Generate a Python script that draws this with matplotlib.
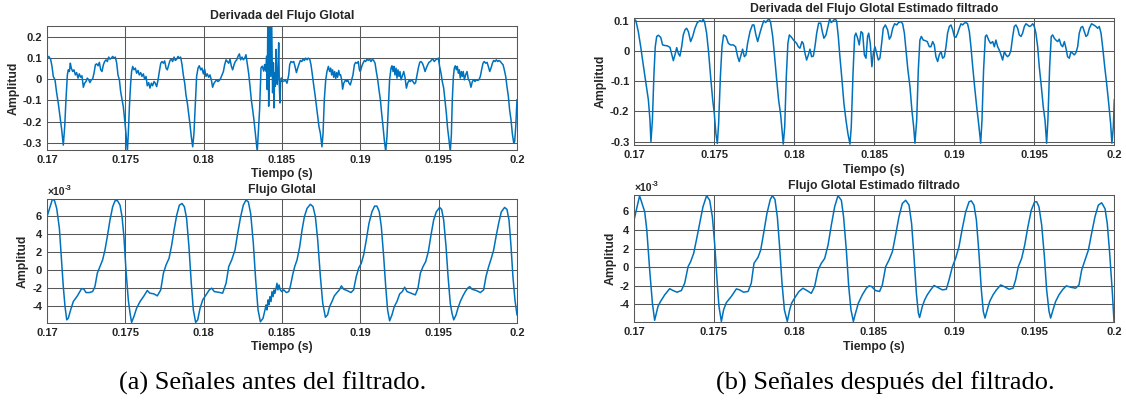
import matplotlib
matplotlib.use('Agg')
import matplotlib.pyplot as plt

plt.rcParams['axes.unicode_minus'] = False

# ---------------- data (time in ms, amplitude) ----------------
# (a) top: Derivada del Flujo Glotal
deriv_a = [
 (170.00,0.099),(170.11,0.107),(170.23,0.094),(170.32,0.060),(170.40,0.013),(170.51,-0.003),(170.62,-0.066),
 (170.72,-0.113),(170.83,-0.176),(170.94,-0.239),(171.04,-0.310),(171.13,-0.223),(171.21,-0.097),(171.30,0.020),
 (171.36,0.044),(171.43,0.036),(171.49,0.075),(171.55,0.052),(171.64,0.036),(171.72,0.044),(171.81,0.020),
 (171.89,0.031),(171.98,0.005),(172.06,0.025),(172.15,0.009),(172.23,0.016),(172.32,-0.038),(172.40,-0.019),
 (172.49,-0.011),(172.57,0.005),(172.66,-0.003),(172.74,-0.016),(172.83,-0.003),(172.91,0.000),(173.00,0.028),
 (173.09,0.068),(173.17,0.072),(173.26,0.063),(173.34,0.079),(173.43,0.044),(173.51,0.036),(173.60,0.068),
 (173.68,0.083),(173.77,0.091),(173.85,0.083),(173.94,0.104),(174.02,0.094),(174.11,0.099),(174.19,0.107),
 (174.28,0.099),(174.36,0.104),(174.45,0.075),(174.53,0.020),(174.62,-0.003),(174.70,-0.058),(174.79,-0.097),
 (174.87,-0.129),(174.96,-0.192),(175.04,-0.255),(175.13,-0.340),(175.19,-0.255),(175.26,-0.129),(175.34,-0.019),
 (175.40,0.036),(175.47,0.060),(175.55,0.044),(175.64,0.052),(175.72,0.028),(175.81,0.041),(175.89,0.020),
 (175.98,0.031),(176.06,0.013),(176.15,0.025),(176.23,0.000),(176.32,0.013),(176.40,-0.031),(176.49,-0.016),
 (176.57,-0.042),(176.66,-0.019),(176.74,-0.031),(176.83,-0.011),(176.91,-0.019),(177.00,-0.035),(177.09,-0.003),
 (177.17,0.036),(177.26,0.075),(177.34,0.083),(177.43,0.075),(177.51,0.086),(177.60,0.052),(177.68,0.044),
 (177.77,0.068),(177.85,0.088),(177.94,0.094),(178.02,0.083),(178.11,0.104),(178.19,0.088),(178.28,0.094),
 (178.36,0.107),(178.45,0.099),(178.53,0.104),(178.62,0.068),(178.70,0.020),(178.79,-0.019),(178.87,-0.074),
 (178.96,-0.113),(179.04,-0.160),(179.13,-0.215),(179.21,-0.270),(179.30,-0.318),(179.38,-0.255),(179.47,-0.113),
 (179.55,0.013),(179.64,0.052),(179.72,0.063),(179.81,0.044),(179.89,0.052),(179.98,0.025),(180.06,0.047),
 (180.15,0.013),(180.23,0.025),(180.32,0.009),(180.40,0.020),(180.49,-0.003),(180.57,-0.038),(180.66,-0.019),
 (180.74,-0.011),(180.83,-0.003),(180.91,-0.011),(181.00,-0.006),(181.09,0.005),(181.17,0.020),(181.26,0.036),
 (181.34,0.068),(181.43,0.091),(181.51,0.083),(181.60,0.075),(181.68,0.094),(181.77,0.060),(181.85,0.044),
 (181.94,0.068),(182.02,0.083),(182.11,0.091),(182.19,0.107),(182.28,0.119),(182.36,0.091),(182.45,0.104),
 (182.53,0.091),(182.62,0.099),(182.70,0.115),(182.79,0.068),(182.87,0.028),(182.96,-0.035),(183.04,-0.097),
 (183.13,-0.145),(183.21,-0.192),(183.30,-0.255),(183.42,-0.340),(183.57,-0.143),(183.66,0.053),(183.74,0.061),
 (183.83,0.038),(183.89,0.069),(183.96,0.038),(184.02,0.108),(184.06,-0.049),(184.11,0.400),(184.15,-0.127),
 (184.19,0.077),(184.23,0.400),(184.28,0.014),(184.32,0.400),(184.36,0.156),(184.40,-0.064),(184.45,0.077),
 (184.49,-0.135),(184.53,0.030),(184.57,-0.033),(184.62,0.140),(184.66,0.014),(184.70,-0.025),(184.74,0.038),
 (184.79,0.171),(184.83,-0.033),(184.87,-0.112),(184.91,-0.017),(184.96,0.006),(185.00,-0.009),(185.11,-0.010),
 (185.21,-0.003),(185.32,-0.019),(185.43,0.020),(185.49,0.068),(185.57,0.083),(185.66,0.079),(185.75,0.083),
 (185.83,0.060),(185.92,0.031),(186.00,0.052),(186.09,0.072),(186.17,0.088),(186.26,0.083),(186.34,0.094),
 (186.43,0.088),(186.51,0.099),(186.60,0.091),(186.68,0.099),(186.77,0.094),(186.85,0.068),(186.94,0.020),
 (187.02,-0.027),(187.11,-0.074),(187.19,-0.121),(187.28,-0.176),(187.36,-0.223),(187.45,-0.255),(187.55,-0.318),
 (187.62,-0.255),(187.70,-0.097),(187.79,-0.003),(187.87,0.036),(187.96,0.060),(188.04,0.036),(188.11,0.052),
 (188.17,0.020),(188.23,0.044),(188.30,0.009),(188.36,0.036),(188.43,0.003),(188.49,0.031),(188.55,0.009),
 (188.62,0.041),(188.68,0.020),(188.74,0.020),(188.81,-0.003),(188.87,-0.047),(188.94,-0.019),(189.00,-0.011),
 (189.06,-0.003),(189.13,-0.011),(189.19,-0.003),(189.28,-0.019),(189.36,-0.027),(189.45,-0.003),(189.53,0.020),
 (189.62,0.068),(189.70,0.079),(189.79,0.075),(189.87,0.083),(189.94,0.044),(190.00,0.036),(190.09,0.060),
 (190.17,0.075),(190.26,0.088),(190.34,0.083),(190.43,0.094),(190.51,0.088),(190.60,0.094),(190.68,0.083),
 (190.77,0.094),(190.85,0.088),(190.94,0.075),(191.02,0.036),(191.11,-0.003),(191.19,-0.050),(191.28,-0.097),
 (191.36,-0.160),(191.45,-0.223),(191.53,-0.286),(191.62,-0.340),(191.70,-0.270),(191.79,-0.129),(191.87,0.000),
 (191.96,0.052),(192.02,0.063),(192.09,0.036),(192.15,0.060),(192.21,0.020),(192.28,0.052),(192.34,0.005),
 (192.40,0.044),(192.47,0.013),(192.53,0.036),(192.60,-0.003),(192.68,0.016),(192.77,0.036),(192.85,0.009),
 (192.94,-0.042),(193.02,-0.019),(193.11,-0.006),(193.19,-0.011),(193.28,-0.003),(193.36,-0.011),(193.45,-0.022),
 (193.53,-0.016),(193.62,0.020),(193.70,0.052),(193.79,0.079),(193.87,0.083),(193.96,0.075),(194.04,0.060),
 (194.13,0.036),(194.21,0.052),(194.30,0.068),(194.38,0.079),(194.47,0.083),(194.55,0.091),(194.64,0.094),
 (194.72,0.083),(194.81,0.091),(194.89,0.094),(194.98,0.099),(195.06,0.060),(195.15,0.028),(195.23,-0.011),
 (195.32,-0.042),(195.40,-0.097),(195.49,-0.160),(195.57,-0.231),(195.66,-0.286),(195.74,-0.340),(195.81,-0.263),
 (195.87,-0.097),(195.94,0.013),(196.00,0.052),(196.06,0.063),(196.13,0.044),(196.19,0.060),(196.26,0.028),
 (196.32,0.044),(196.38,0.005),(196.45,0.036),(196.51,0.013),(196.57,0.036),(196.64,-0.003),(196.72,0.020),
 (196.81,0.036),(196.89,0.000),(196.98,-0.011),(197.06,-0.038),(197.15,-0.011),(197.23,-0.003),(197.32,-0.011),
 (197.40,-0.003),(197.49,-0.006),(197.57,-0.003),(197.66,0.013),(197.74,0.044),(197.83,0.075),(197.91,0.083),
 (198.00,0.075),(198.09,0.079),(198.17,0.060),(198.26,0.036),(198.34,0.052),(198.43,0.075),(198.51,0.088),
 (198.60,0.083),(198.68,0.091),(198.77,0.083),(198.85,0.088),(198.94,0.083),(199.02,0.075),(199.11,0.068),
 (199.19,0.044),(199.28,0.013),(199.36,-0.035),(199.45,-0.082),(199.53,-0.145),(199.62,-0.192),(199.70,-0.255),
 (199.79,-0.299),(199.85,-0.294),(199.92,-0.223),(200.00,-0.097),
]

# (a) bottom: Flujo Glotal (x1e-3)
flujo_a = [
 (170.00,5.95),(170.34,7.88),(170.47,7.80),(170.62,6.88),(170.79,4.65),(170.91,1.49),(171.04,-1.86),(171.15,-4.09),
 (171.26,-5.58),(171.36,-5.39),(171.51,-4.46),(171.68,-3.53),(171.94,-2.90),(172.21,-2.08),(172.36,-2.16),
 (172.49,-2.53),(172.70,-2.53),(172.91,-2.42),(173.06,-1.86),(173.21,-0.37),(173.38,0.37),(173.55,1.12),
 (173.70,2.23),(173.85,3.72),(174.02,5.58),(174.19,7.06),(174.34,7.73),(174.49,7.77),(174.66,7.25),(174.79,5.95),
 (174.91,3.72),(175.04,0.00),(175.19,-3.35),(175.30,-4.83),(175.40,-5.87),(175.55,-5.20),(175.72,-4.28),
 (175.94,-3.53),(176.19,-2.90),(176.40,-2.30),(176.57,-2.60),(176.83,-2.68),(177.04,-2.90),(177.26,-2.23),
 (177.43,-0.37),(177.60,0.56),(177.79,1.30),(177.96,2.79),(178.11,4.46),(178.28,6.13),(178.45,7.25),(178.62,7.43),
 (178.77,7.06),(178.91,5.76),(179.06,2.60),(179.21,-1.49),(179.34,-4.46),(179.49,-5.87),(179.62,-5.58),
 (179.77,-4.28),(179.94,-3.35),(180.15,-2.79),(180.36,-2.23),(180.51,-2.04),(180.68,-2.42),(180.94,-2.49),
 (181.21,-2.60),(181.43,-1.49),(181.60,0.37),(181.79,1.12),(182.00,2.23),(182.17,4.09),(182.36,5.95),(182.53,7.25),
 (182.70,7.81),(182.85,7.62),(183.00,6.32),(183.17,2.97),(183.32,-1.12),(183.47,-4.46),(183.62,-5.80),
 (183.79,-5.40),(183.94,-4.28),(183.98,-3.91),(184.04,-4.47),(184.11,-3.35),(184.17,-3.90),(184.23,-2.98),
 (184.30,-3.54),(184.36,-2.42),(184.43,-2.98),(184.49,-2.23),(184.55,-2.61),(184.62,-2.05),(184.68,-1.49),
 (184.74,-2.23),(184.81,-1.68),(184.89,-2.23),(184.99,-2.42),(185.11,-2.23),(185.28,-2.53),(185.43,-2.42),
 (185.53,-1.86),(185.68,-0.56),(185.81,0.37),(185.96,1.12),(186.13,2.60),(186.28,4.47),(186.43,5.96),(186.60,6.89),
 (186.81,7.34),(186.98,7.08),(187.13,5.96),(187.28,3.35),(187.45,-0.74),(187.60,-3.72),(187.77,-5.29),
 (187.91,-5.02),(188.04,-4.09),(188.19,-3.53),(188.34,-2.90),(188.51,-2.53),(188.66,-2.23),(188.79,-1.78),
 (188.94,-2.16),(189.15,-2.30),(189.40,-2.53),(189.57,-2.23),(189.74,-0.74),(189.89,0.19),(190.06,0.74),
 (190.21,1.67),(190.38,3.35),(190.55,5.20),(190.74,6.50),(190.91,7.14),(191.06,7.14),(191.21,6.50),(191.34,4.83),
 (191.49,1.49),(191.62,-1.86),(191.74,-4.46),(191.87,-5.69),(192.02,-5.02),(192.17,-4.09),(192.34,-3.53),
 (192.51,-2.68),(192.68,-2.42),(192.83,-1.93),(192.98,-2.42),(193.23,-2.60),(193.51,-2.79),(193.68,-2.04),
 (193.83,-0.37),(194.00,0.37),(194.17,0.93),(194.34,2.04),(194.51,3.90),(194.68,5.58),(194.85,6.50),(195.06,6.99),
 (195.19,6.77),(195.32,5.58),(195.47,2.60),(195.60,-0.74),(195.74,-3.72),(195.85,-4.83),(195.96,-5.58),
 (196.11,-5.02),(196.23,-4.28),(196.38,-3.53),(196.55,-2.90),(196.70,-2.42),(196.85,-2.04),(196.98,-1.86),
 (197.13,-2.16),(197.40,-2.30),(197.66,-2.53),(197.87,-2.23),(198.02,-0.74),(198.19,0.37),(198.36,1.30),
 (198.51,2.23),(198.68,3.90),(198.85,5.39),(199.00,6.50),(199.21,6.99),(199.36,6.77),(199.49,5.58),(199.62,2.60),
 (199.74,-0.74),(199.87,-3.35),(200.00,-5.02),
]

# (b) top: Derivada del Flujo Glotal Estimado filtrado
deriv_b = [
 (170.00,0.105),(170.10,0.100),(170.25,0.064),(170.40,0.014),(170.56,-0.046),(170.73,-0.107),(170.88,-0.162),
 (170.98,-0.229),(171.04,-0.300),(171.13,-0.229),(171.23,-0.074),(171.31,0.014),(171.40,0.048),(171.50,0.052),
 (171.65,0.045),(171.77,0.020),(171.92,0.018),(172.06,0.017),(172.23,0.012),(172.35,-0.013),(172.44,-0.032),
 (172.54,-0.013),(172.65,0.011),(172.75,-0.008),(172.85,-0.017),(172.96,0.014),(173.06,0.053),(173.17,0.070),
 (173.27,0.075),(173.38,0.064),(173.52,0.031),(173.65,0.048),(173.79,0.075),(173.94,0.094),(174.10,0.100),
 (174.23,0.097),(174.31,0.105),(174.40,0.094),(174.52,0.059),(174.65,-0.008),(174.77,-0.085),(174.90,-0.162),
 (175.00,-0.207),(175.10,-0.273),(175.19,-0.306),(175.27,-0.240),(175.38,-0.085),(175.48,0.014),(175.58,0.053),
 (175.73,0.048),(175.88,0.025),(176.02,0.020),(176.19,0.020),(176.33,0.014),(176.46,-0.019),(176.56,-0.035),
 (176.67,-0.013),(176.77,0.006),(176.88,-0.019),(176.98,-0.013),(177.08,0.025),(177.23,0.064),(177.38,0.086),
 (177.48,0.086),(177.60,0.053),(177.71,0.031),(177.85,0.059),(178.00,0.086),(178.10,0.100),(178.21,0.094),
 (178.31,0.100),(178.42,0.107),(178.52,0.094),(178.65,0.048),(178.77,-0.019),(178.90,-0.096),(179.02,-0.162),
 (179.15,-0.212),(179.23,-0.262),(179.31,-0.308),(179.40,-0.251),(179.50,-0.085),(179.60,0.025),(179.69,0.053),
 (179.83,0.045),(179.98,0.034),(180.15,0.025),(180.25,0.014),(180.35,0.009),(180.48,0.031),(180.56,0.025),
 (180.67,-0.008),(180.77,-0.030),(180.88,-0.013),(180.98,0.006),(181.08,-0.019),(181.19,-0.017),(181.29,0.014),
 (181.40,0.059),(181.52,0.092),(181.65,0.092),(181.75,0.064),(181.85,0.042),(181.98,0.053),(182.10,0.081),
 (182.21,0.106),(182.31,0.094),(182.44,0.100),(182.56,0.108),(182.65,0.097),(182.75,0.048),(182.85,-0.019),
 (182.98,-0.096),(183.10,-0.173),(183.23,-0.229),(183.35,-0.273),(183.48,-0.308),(183.56,-0.251),(183.67,-0.074),
 (183.77,0.048),(183.85,0.059),(183.96,0.042),(184.06,0.020),(184.17,0.064),(184.27,0.059),(184.38,-0.013),
 (184.48,-0.024),(184.58,0.048),(184.65,0.059),(184.75,0.025),(184.85,-0.052),(184.94,-0.008),(185.04,0.014),
 (185.15,-0.008),(185.25,-0.030),(185.35,-0.024),(185.46,0.025),(185.56,0.075),(185.69,0.086),(185.83,0.070),
 (185.94,0.039),(186.04,0.048),(186.15,0.075),(186.27,0.090),(186.40,0.086),(186.52,0.094),(186.67,0.097),
 (186.77,0.090),(186.88,0.059),(186.98,0.003),(187.10,-0.063),(187.23,-0.118),(187.35,-0.196),(187.46,-0.251),
 (187.54,-0.305),(187.65,-0.229),(187.75,-0.063),(187.85,0.036),(187.94,0.048),(188.06,0.036),(188.19,0.034),
 (188.31,0.031),(188.44,0.014),(188.54,0.014),(188.65,0.031),(188.75,0.020),(188.85,-0.019),(188.96,-0.035),
 (189.06,-0.013),(189.17,-0.002),(189.27,-0.024),(189.38,-0.019),(189.48,0.014),(189.58,0.059),(189.69,0.081),
 (189.79,0.086),(189.90,0.070),(190.00,0.048),(190.10,0.045),(190.21,0.059),(190.31,0.075),(190.42,0.090),
 (190.52,0.086),(190.63,0.092),(190.73,0.094),(190.83,0.090),(190.94,0.064),(191.04,0.014),(191.15,-0.052),
 (191.27,-0.118),(191.40,-0.185),(191.52,-0.240),(191.65,-0.305),(191.73,-0.229),(191.83,-0.063),(191.94,0.048),
 (192.02,0.053),(192.15,0.036),(192.27,0.025),(192.40,0.031),(192.50,0.014),(192.60,0.036),(192.71,0.014),
 (192.81,0.003),(192.92,-0.013),(193.02,-0.030),(193.13,-0.002),(193.23,-0.013),(193.33,-0.019),(193.44,-0.013),
 (193.54,0.003),(193.65,0.048),(193.75,0.081),(193.85,0.086),(193.96,0.075),(194.06,0.053),(194.17,0.048),
 (194.27,0.059),(194.38,0.081),(194.48,0.090),(194.58,0.086),(194.69,0.081),(194.79,0.083),(194.90,0.090),
 (195.00,0.081),(195.10,0.059),(195.21,0.014),(195.31,-0.052),(195.44,-0.118),(195.56,-0.185),(195.67,-0.229),
 (195.77,-0.305),(195.85,-0.229),(195.96,-0.052),(196.06,0.048),(196.15,0.053),(196.25,0.042),(196.35,0.036),
 (196.46,0.031),(196.56,0.039),(196.67,0.020),(196.77,0.014),(196.88,0.031),(196.98,0.009),(197.08,-0.019),
 (197.19,-0.024),(197.29,-0.002),(197.40,-0.008),(197.50,-0.013),(197.60,-0.006),(197.71,0.014),(197.81,0.059),
 (197.92,0.078),(198.02,0.081),(198.13,0.064),(198.23,0.048),(198.33,0.053),(198.44,0.075),(198.58,0.090),
 (198.71,0.086),(198.85,0.081),(198.96,0.075),(199.06,0.081),(199.17,0.059),(199.27,0.014),(199.40,-0.052),
 (199.52,-0.107),(199.65,-0.173),(199.77,-0.240),(199.85,-0.305),(199.94,-0.251),(200.00,-0.162),
]

# (b) bottom: Flujo Glotal Estimado filtrado (x1e-3)
flujo_b = [
 (170.00,5.07),(170.35,7.68),(170.67,5.96),(170.80,4.00),(170.98,-0.29),(171.15,-3.86),(171.29,-5.70),
 (171.50,-4.20),(171.65,-3.70),(171.92,-2.96),(172.23,-2.30),(172.44,-2.50),(172.69,-2.68),(172.96,-2.50),
 (173.17,-1.70),(173.38,0.07),(173.54,0.60),(173.73,1.50),(173.90,2.93),(174.10,4.70),(174.31,6.50),(174.54,7.70),
 (174.73,7.20),(174.90,5.40),(175.04,2.57),(175.19,-1.36),(175.31,-4.20),(175.46,-5.82),(175.60,-4.57),
 (175.77,-3.80),(176.08,-3.14),(176.40,-2.32),(176.60,-2.43),(176.85,-2.68),(177.13,-2.60),(177.33,-1.70),
 (177.50,0.43),(177.75,1.07),(177.92,1.86),(178.10,3.64),(178.31,5.80),(178.52,7.30),(178.65,7.70),(178.81,7.30),
 (178.96,5.40),(179.10,2.20),(179.25,-1.70),(179.40,-4.57),(179.58,-5.82),(179.73,-4.57),(179.85,-3.86),
 (180.04,-3.30),(180.31,-2.60),(180.56,-2.25),(180.81,-2.50),(181.08,-2.80),(181.29,-2.07),(181.50,-0.29),
 (181.71,0.43),(181.92,0.96),(182.13,2.40),(182.33,4.50),(182.54,6.50),(182.75,7.70),(182.96,7.20),(183.10,5.40),
 (183.27,1.86),(183.42,-2.07),(183.56,-4.57),(183.71,-5.82),(183.85,-4.90),(184.02,-3.86),(184.27,-2.96),
 (184.52,-2.25),(184.69,-2.00),(184.85,-2.07),(185.10,-2.50),(185.35,-2.60),(185.52,-1.90),(185.73,0.07),
 (185.94,0.79),(186.15,1.68),(186.35,3.46),(186.56,5.43),(186.77,6.86),(186.98,7.20),(187.19,6.68),(187.35,4.70),
 (187.50,1.14),(187.65,-2.80),(187.77,-4.90),(187.85,-5.40),(188.02,-4.20),(188.17,-3.50),(188.33,-2.96),
 (188.54,-2.43),(188.75,-1.96),(188.96,-2.14),(189.27,-2.43),(189.52,-2.36),(189.69,-1.36),(189.90,0.07),
 (190.10,0.96),(190.31,2.20),(190.52,4.18),(190.73,5.96),(190.94,7.04),(191.08,7.14),(191.25,6.68),(191.40,5.07),
 (191.56,1.50),(191.71,-2.43),(191.83,-4.75),(191.94,-5.46),(192.08,-4.57),(192.23,-3.68),(192.44,-2.96),
 (192.65,-2.43),(192.92,-1.90),(193.13,-2.07),(193.44,-2.36),(193.69,-2.25),(193.85,-1.36),(194.02,0.07),
 (194.23,0.96),(194.42,2.40),(194.62,4.36),(194.83,6.14),(195.04,7.04),(195.17,7.04),(195.31,6.50),(195.48,4.54),
 (195.65,1.14),(195.79,-2.43),(195.94,-4.75),(196.04,-5.46),(196.19,-4.57),(196.35,-3.68),(196.56,-2.96),
 (196.81,-2.36),(197.02,-2.00),(197.29,-2.14),(197.60,-2.25),(197.81,-1.90),(197.98,-0.29),(198.19,0.79),
 (198.40,1.86),(198.60,3.64),(198.81,5.43),(199.02,6.68),(199.23,6.93),(199.44,6.30),(199.58,4.70),(199.73,1.50),
 (199.90,-2.80),(200.00,-5.82),
]

xtick_vals = [0.17, 0.175, 0.18, 0.185, 0.19, 0.195, 0.2]
xtick_labels = ['0.17', '0.175', '0.18', '0.185', '0.19', '0.195', '0.2']
deriv_a_yticks = [-0.3, -0.2, -0.1, 0, 0.1, 0.2]
deriv_a_ylabels = ['-0.3', '-0.2', '-0.1', '0', '0.1', '0.2']
deriv_b_yticks = [-0.3, -0.2, -0.1, 0, 0.1]
deriv_b_ylabels = ['-0.3', '-0.2', '-0.1', '0', '0.1']
flujo_yticks = [-4, -2, 0, 2, 4, 6]
flujo_ylabels = ['-4', '-2', '0', '2', '4', '6']

titles = ['Derivada del Flujo Glotal', 'Flujo Glotal',
          'Derivada del Flujo Glotal Estimado filtrado', 'Flujo Glotal Estimado filtrado']
captions = ['(a) Señales antes del filtrado.', '(b) Señales después del filtrado.']

# ---------------- layout ----------------
W, H = 1126, 405
fig = plt.figure(figsize=(W / 100, H / 100), dpi=100)
SANS = ['Liberation Sans', 'DejaVu Sans']
SERIF = ['Liberation Serif', 'DejaVu Serif']
BLUE = '#0072BD'
GRID = '#585858'
TXT = '#262626'


def rect(l, t, r, b):
    return [l / W, 1 - b / H, (r - l) / W, (b - t) / H]


def pt(x, y):
    return x / W, 1 - y / H


def make_axes(box, series, yt, ytl, ylim, scale_t=1000.0):
    ax = fig.add_axes(rect(*box))
    t = [p[0] / scale_t for p in series]
    v = [p[1] for p in series]
    ax.plot(t, v, color=BLUE, lw=1.1, solid_joinstyle='round')
    ax.set_xlim(0.17, 0.2)
    ax.set_ylim(*ylim)
    ax.set_xticks(xtick_vals)
    ax.set_xticklabels(xtick_labels)
    ax.set_yticks(yt)
    ax.set_yticklabels(ytl)
    ax.grid(True, color=GRID, lw=0.75)
    ax.set_axisbelow(True)
    ax.tick_params(length=0, pad=3.5, labelsize=8, colors=TXT)
    for lab in ax.get_xticklabels() + ax.get_yticklabels():
        lab.set_fontweight('bold')
        lab.set_family(SANS)
    for s in ax.spines.values():
        s.set_color(GRID)
        s.set_linewidth(0.75)
    return ax


ax1 = make_axes((47, 26, 517, 150), deriv_a, deriv_a_yticks, deriv_a_ylabels, (-0.333, 0.25))
ax2 = make_axes((47, 199.3, 517, 322.7), flujo_a, flujo_yticks, flujo_ylabels, (-5.9, 7.9))
ax3 = make_axes((634.3, 17.7, 1114.3, 145), deriv_b, deriv_b_yticks, deriv_b_ylabels, (-0.311, 0.110))
ax4 = make_axes((634, 195, 1114, 321.7), flujo_b, flujo_yticks, flujo_ylabels, (-5.85, 7.77))

lab_kw = dict(fontsize=8.8, fontweight='bold', family=SANS, color=TXT, ha='center', va='center')

# titles
fig.text(*pt(282, 16.5), titles[0], **lab_kw)
fig.text(*pt(282, 190.5), titles[1], **lab_kw)
fig.text(*pt(874, 9), titles[2], **lab_kw)
fig.text(*pt(874, 186), titles[3], **lab_kw)

# x labels
for (x, y) in [(282, 173.5), (282, 347), (874, 170.5), (874, 347)]:
    fig.text(*pt(x, y), 'Tiempo (s)', **lab_kw)

# y labels
for (x, y) in [(14, 88), (23, 261), (601, 81), (611, 258)]:
    fig.text(*pt(x, y), 'Amplitud', rotation=90, **lab_kw)

# exponent markers
for (x, y) in [(48, 192), (635, 188)]:
    fig.text(*pt(x, y), '×10', fontsize=7.5, fontweight='bold', family=SANS, color=TXT,
             ha='left', va='center')
    fig.text(*pt(x + 17, y - 3.5), '-3', fontsize=5.5, fontweight='bold', family=SANS,
             color=TXT, ha='left', va='center')

# captions
fig.text(*pt(273, 383), captions[0], fontsize=19, family=SERIF, color='black', ha='center', va='center')
fig.text(*pt(885, 383), captions[1], fontsize=19, family=SERIF, color='black', ha='center', va='center')

fig.savefig('out.png', dpi=100)
